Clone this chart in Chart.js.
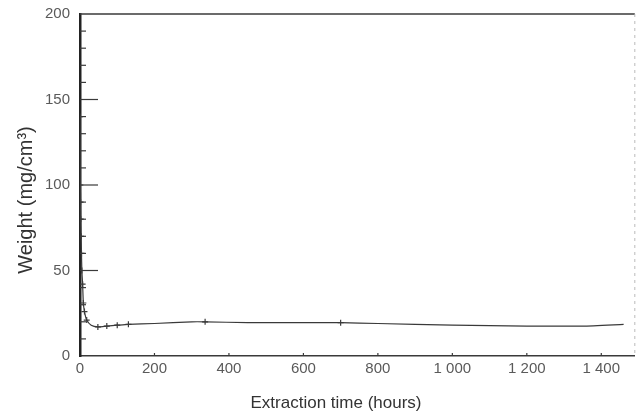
<!DOCTYPE html>
<html>
<head>
<meta charset="utf-8">
<script src="https://cdn.jsdelivr.net/npm/chart.js@4.4.1/dist/chart.umd.min.js"></script>
<style>
  html, body { margin: 0; padding: 0; background: #fff; }
  #wrap { width: 640px; height: 415px; }
</style>
</head>
<body>
<div id="wrap"><canvas id="c" width="640" height="415"></canvas></div>
<script>
// Extraction time (hours) and remaining weight (mg/cm3)
const hours   = [0, 1, 1.5, 2, 3, 4, 5, 7, 9, 12, 18, 30, 48, 72, 100, 130, 200, 300, 336, 450, 600, 700, 800, 1000, 1200, 1350, 1460];
const weights = [140, 100, 90, 80, 70, 60, 50, 42, 31, 26, 21, 18, 17, 17.5, 18, 18.5, 19, 20, 20, 19.5, 19.5, 19.5, 19, 18, 17.5, 17.5, 18.5];
// Points that carry a marker
const markedHours = [0, 1, 1.5, 2, 3, 4, 5, 7, 9, 12, 18, 48, 72, 100, 130, 336, 700];

const xTicks = [0, 200, 400, 600, 800, 1000, 1200, 1400];
const yTicks = [0, 50, 100, 150, 200];
const yMinorStep = 10;
const xTitle = 'Extraction time (hours)';
const yTitle = 'Weight (mg/cm³)';

const ink = '#3a3a3a';
const tickInk = '#5a5a5a';
const titleFont = 'Liberation Sans, Arial, sans-serif';

const fmt = v => {
  const s = String(v);
  return s.length > 3 ? s.slice(0, -3) + ' ' + s.slice(-3) : s;
};

// Inward tick marks, the frame around the plotting area and the axis titles
const frameTicks = {
  id: 'frameTicks',
  afterDraw(chart) {
    const { ctx, chartArea: a, scales: { x, y } } = chart;
    ctx.save();
    ctx.strokeStyle = ink;
    // frame
    ctx.lineWidth = 1.3;
    ctx.beginPath();
    ctx.moveTo(a.left, a.top); ctx.lineTo(a.right, a.top);
    ctx.stroke();
    ctx.lineWidth = 0.8;
    ctx.strokeStyle = '#aaa';
    ctx.setLineDash([3, 4]);
    ctx.beginPath();
    ctx.moveTo(a.right, a.top); ctx.lineTo(a.right, a.bottom);
    ctx.stroke();
    ctx.setLineDash([]);
    ctx.strokeStyle = ink;
    // y ticks, pointing into the plot
    ctx.lineWidth = 1.2;
    for (let v = 0; v <= 200; v += yMinorStep) {
      const py = y.getPixelForValue(v);
      const len = (v % 50 === 0) ? 18 : 6;
      if (v === 0 || v === 200) continue;
      ctx.beginPath();
      ctx.moveTo(a.left, py); ctx.lineTo(a.left + len, py);
      ctx.stroke();
    }
    // x ticks, pointing into the plot
    xTicks.forEach(v => {
      if (v === 0) return;
      const px = x.getPixelForValue(v);
      ctx.beginPath();
      ctx.moveTo(px, a.bottom); ctx.lineTo(px, a.bottom - 3);
      ctx.stroke();
    });
    // axis titles
    ctx.fillStyle = '#333';
    ctx.textAlign = 'center';
    ctx.textBaseline = 'middle';
    ctx.font = '17px ' + titleFont;
    ctx.fillText(xTitle, 336, 403);
    ctx.translate(26, 200);
    ctx.rotate(-Math.PI / 2);
    ctx.font = '20px ' + titleFont;
    ctx.fillText(yTitle, 0, 0);
    ctx.restore();
  }
};

const pts = hours.map((h, i) => ({ x: h, y: weights[i] }));

new Chart(document.getElementById('c'), {
  type: 'scatter',
  data: {
    datasets: [{
      data: pts,
      showLine: true,
      borderColor: ink,
      borderWidth: 1.2,
      tension: 0.2,
      pointStyle: 'cross',
      pointRadius: ctx => markedHours.includes(hours[ctx.dataIndex]) ? 3 : 0,
      pointBorderColor: ink,
      pointBorderWidth: 1.2
    }]
  },
  options: {
    responsive: false,
    animation: false,
    events: [],
    layout: { padding: { top: 14, right: 2, left: 0, bottom: 2 } },
    plugins: { legend: { display: false }, tooltip: { enabled: false } },
    scales: {
      x: {
        type: 'linear',
        min: 0, max: 1490,
        afterBuildTicks: s => { s.ticks = xTicks.map(v => ({ value: v })); },
        ticks: {
          callback: v => fmt(v),
          color: tickInk,
          font: { family: titleFont, size: 15 },
          padding: 4,
          maxRotation: 0
        },
        grid: { display: false, drawTicks: false },
        border: { display: true, color: ink, width: 1.5 },
        title: { display: false },
        afterFit: s => { s.height = 57; s.paddingLeft = 0; s.paddingRight = 0; }
      },
      y: {
        min: 0, max: 200,
        afterBuildTicks: s => { s.ticks = yTicks.map(v => ({ value: v })); },
        ticks: {
          color: tickInk,
          font: { family: titleFont, size: 15 },
          padding: 10
        },
        grid: { display: false, drawTicks: false },
        border: { display: true, color: '#222', width: 2.5 },
        title: { display: false },
        afterFit: s => { s.width = 80; s.paddingTop = 0; s.paddingBottom = 0; }
      }
    }
  },
  plugins: [frameTicks]
});
</script>
</body>
</html>
